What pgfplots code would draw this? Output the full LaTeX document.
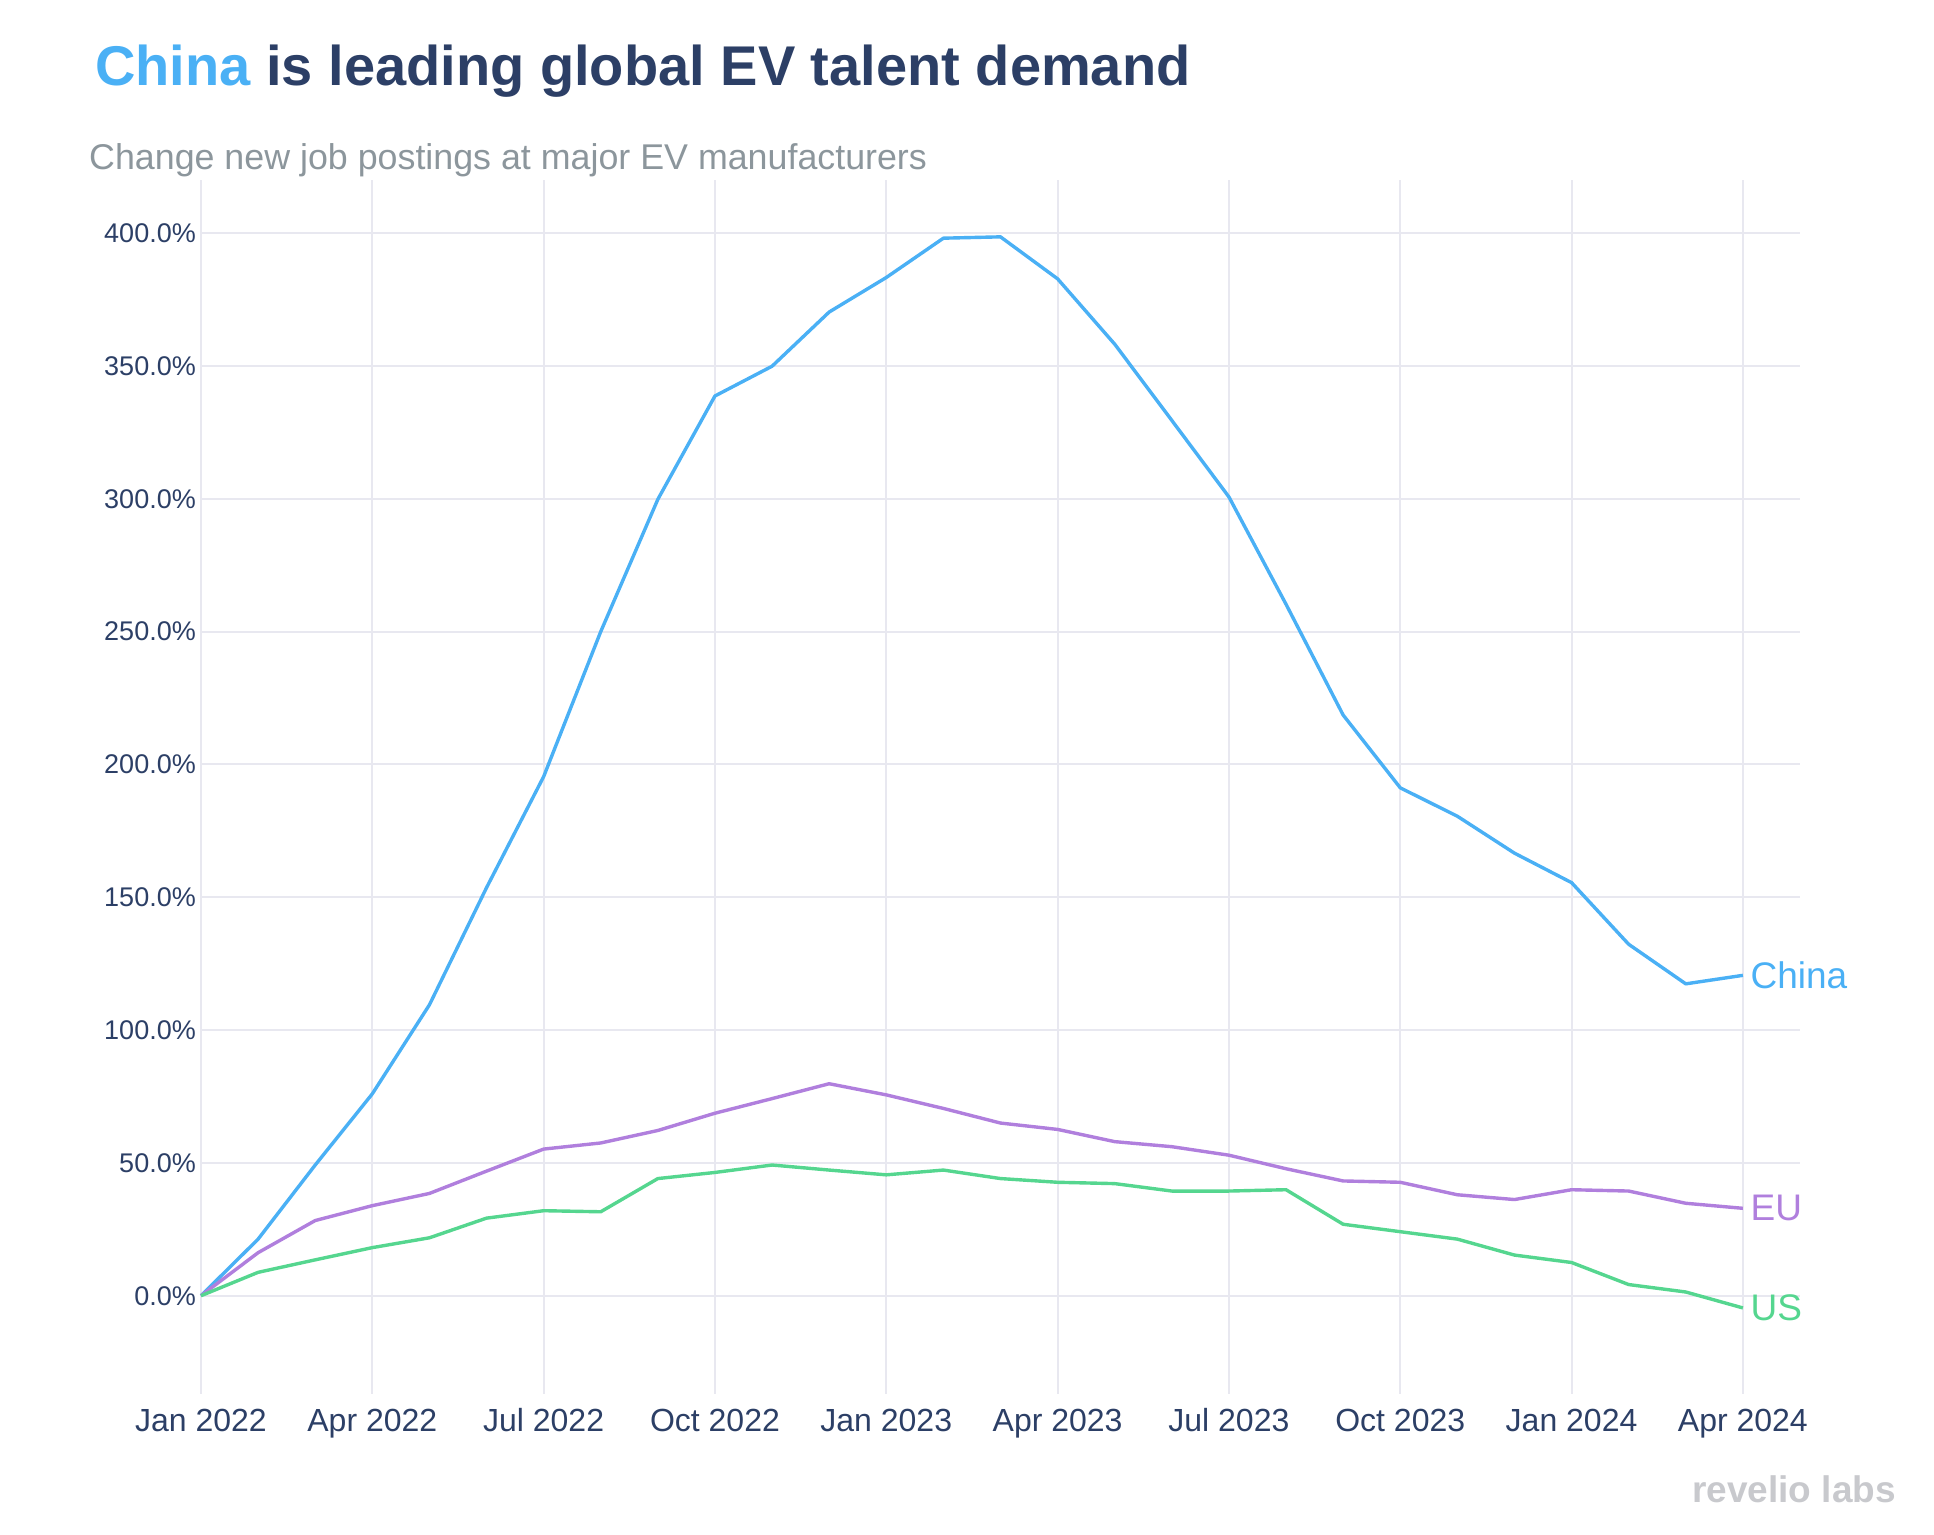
\documentclass[border=0pt]{standalone}
\usepackage{fontspec}
\setmainfont{Liberation Sans}
\usepackage{pgfplots}
\pgfplotsset{compat=1.18}
\definecolor{navy}{RGB}{44,63,102}
\definecolor{chinac}{RGB}{74,176,245}
\definecolor{euc}{RGB}{176,127,221}
\definecolor{usc}{RGB}{85,214,143}
\definecolor{subc}{RGB}{140,150,156}
\definecolor{gridc}{RGB}{232,232,240}
\definecolor{logoc}{RGB}{200,201,205}
\begin{document}
\begin{tikzpicture}
\useasboundingbox (0,0) rectangle (1934pt,1534pt);
\node[anchor=base west, inner sep=0pt, font=\fontsize{56}{62}\selectfont\bfseries] at (95pt,1448pt)
  {\textcolor{chinac}{China} \textcolor{navy}{is leading global EV talent demand}};
\node[anchor=base west, inner sep=0pt, text=subc, font=\fontsize{35.8}{40}\selectfont] at (89pt,1364pt)
  {Change new job postings at major EV manufacturers};
\node[anchor=base east, inner sep=0pt, text=logoc, font=\fontsize{37}{42}\selectfont\bfseries] at (1896pt,32pt)
  {revelio labs};
\begin{axis}[
  at={(201pt,140pt)}, anchor=south west,
  scale only axis, width=1599pt, height=1214pt,
  xmin=0, xmax=28, ymin=-37, ymax=420,
  axis line style={draw=none},
  major tick length=0pt,
  clip=false,
  xtick={0,3,...,27},
  xticklabels={Jan 2022,Apr 2022,Jul 2022,Oct 2022,Jan 2023,Apr 2023,Jul 2023,Oct 2023,Jan 2024,Apr 2024},
  ytick={0,50,...,400},
  yticklabel={\pgfmathprintnumber[fixed,fixed zerofill,precision=1]{\tick}\%},
  /pgf/number format/assume math mode=true,
  xticklabel style={anchor=base, yshift=-37pt, text=navy, font=\fontsize{32}{36}\selectfont},
  yticklabel style={anchor=east, inner sep=0pt, xshift=-5pt, text=navy, font=\fontsize{27}{30}\selectfont},
  grid=major,
  major grid style={draw=gridc, line width=2pt},
  every axis plot/.append style={line width=3.4pt, line join=round, mark=none},
]
\addplot[chinac] coordinates {
(0,0) (1,21.3) (2,49.2) (3,76) (4,109.5) (5,153.6) (6,195.4) (7,250) (8,299.8) (9,338.7)
(10,349.9) (11,370.3) (12,383.3) (13,398.1) (14,398.6) (15,382.8) (16,358.2) (17,329.5) (18,300.7) (19,260.3)
(20,218.6) (21,191.2) (22,180.5) (23,166.6) (24,155.5) (25,132.3) (26,117.4) (27,120.6)
} node[pos=1, anchor=west, inner sep=0pt, xshift=6pt, text=chinac, font=\fontsize{37}{40}\selectfont] {China};
\addplot[euc] coordinates {
(0,0) (1,16.2) (2,28.3) (3,33.9) (4,38.5) (5,46.9) (6,55.2) (7,57.5) (8,62.2) (9,68.7)
(10,74.2) (11,79.8) (12,75.6) (13,70.5) (14,65) (15,62.6) (16,58) (17,56.1) (18,52.9) (19,47.8)
(20,43.2) (21,42.7) (22,38) (23,36.2) (24,39.9) (25,39.4) (26,34.8) (27,32.9)
} node[pos=1, anchor=west, inner sep=0pt, xshift=6pt, text=euc, font=\fontsize{37}{40}\selectfont] {EU};
\addplot[usc] coordinates {
(0,0) (1,8.8) (2,13.5) (3,18.1) (4,21.8) (5,29.2) (6,32) (7,31.6) (8,44.1) (9,46.4)
(10,49.2) (11,47.3) (12,45.5) (13,47.3) (14,44.1) (15,42.7) (16,42.2) (17,39.4) (18,39.4) (19,39.9)
(20,26.9) (21,24.1) (22,21.3) (23,15.3) (24,12.5) (25,4.2) (26,1.4) (27,-4.6)
} node[pos=1, anchor=west, inner sep=0pt, xshift=6pt, text=usc, font=\fontsize{37}{40}\selectfont] {US};
\end{axis}
\end{tikzpicture}
\end{document}
